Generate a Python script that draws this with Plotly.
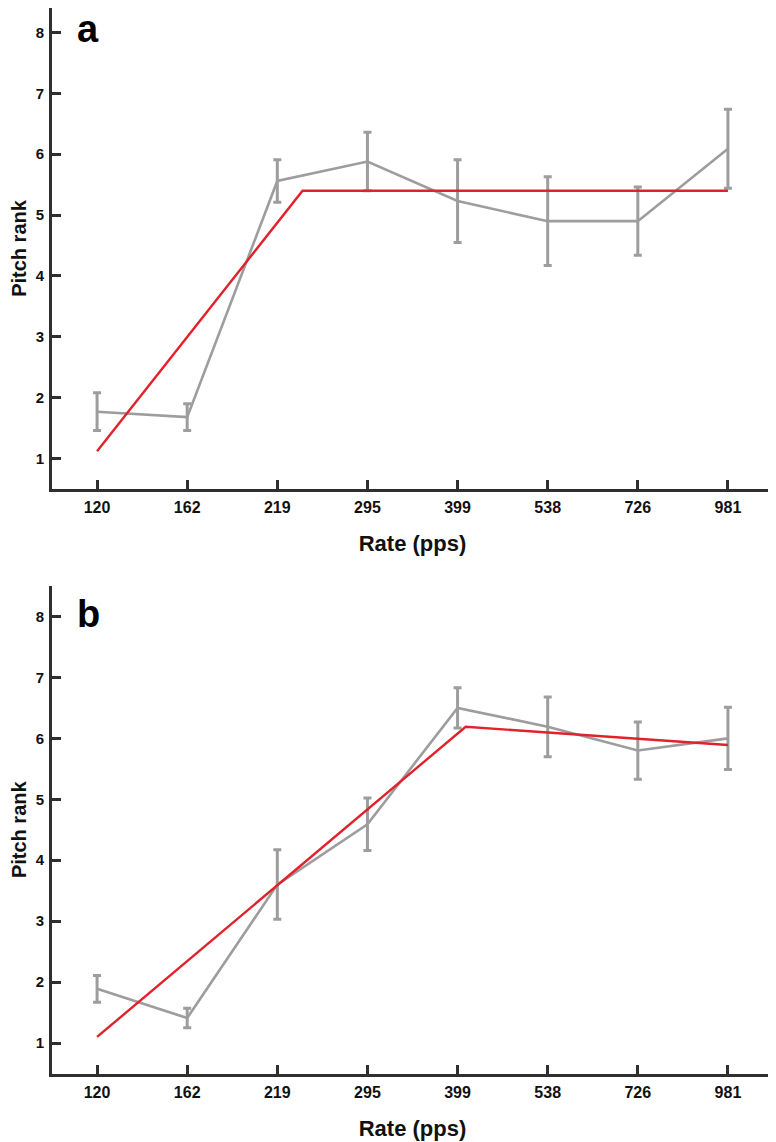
import plotly.graph_objects as go

# ---- data ----
rate_labels = ["120", "162", "219", "295", "399", "538", "726", "981"]
rate_pos = [0, 1, 2, 3, 4, 5, 6, 7]

mean_a = [1.77, 1.68, 5.56, 5.88, 5.23, 4.90, 4.90, 6.09]
err_a = [0.31, 0.22, 0.35, 0.48, 0.68, 0.73, 0.56, 0.65]
fit_x_a = [0, 2.28, 7]
fit_y_a = [1.12, 5.40, 5.40]

mean_b = [1.89, 1.41, 3.60, 4.59, 6.50, 6.19, 5.80, 6.00]
err_b = [0.22, 0.16, 0.57, 0.43, 0.33, 0.49, 0.47, 0.51]
fit_x_b = [0, 4.09, 7]
fit_y_b = [1.10, 6.19, 5.89]

y_ticks = [1, 2, 3, 4, 5, 6, 7, 8]

W, H = 776, 1142
OFF = 8  # page body margin offset
GRAY = "#9d9d9d"
RED = "#e2212b"
AX = "#2f2f2f"
FONT = "Liberation Sans, Arial, sans-serif"

fig = go.Figure()

panels = [
    ("x", "y", mean_a, err_a, fit_x_a, fit_y_a),
    ("x2", "y2", mean_b, err_b, fit_x_b, fit_y_b),
]
for xa, ya, m, e, fx, fy in panels:
    fig.add_trace(go.Scatter(
        x=rate_pos, y=m, mode="lines", xaxis=xa, yaxis=ya,
        line=dict(color=GRAY, width=2.6),
        error_y=dict(type="data", array=e, visible=True,
                     color=GRAY, thickness=3, width=4),
        showlegend=False, hoverinfo="skip"))
    fig.add_trace(go.Scatter(
        x=fx, y=fy, mode="lines", xaxis=xa, yaxis=ya,
        line=dict(color=RED, width=2.4),
        showlegend=False, hoverinfo="skip"))

def px_x(p):
    return (p - OFF) / W

def px_y(p):
    return min(1.0, 1 - (p - OFF) / H)

PXU = 60.8  # pixels per rank unit
xdom = [px_x(52), px_x(773)]
ydom_a = [px_y(489), px_y(OFF)]
ydom_b = [px_y(1073.5), px_y(586)]
ytop_a = 8.5 - (OFF - 2) / PXU

xaxis_common = dict(
    range=[-0.5, 7.5], tickmode="array", tickvals=rate_pos, ticktext=rate_labels,
    showline=True, linecolor=AX, linewidth=3, ticks="inside", ticklen=9,
    tickwidth=3, tickcolor=AX, showgrid=False, zeroline=False,
    tickfont=dict(family=FONT, size=16, color="#111", weight=700),
    title=dict(text="Rate (pps)", font=dict(family=FONT, size=22, color="#111", weight=700),
               standoff=21),
    domain=xdom, fixedrange=True, automargin=False, ticklabelstandoff=2,
)
yaxis_common = dict(
    tickmode="array", tickvals=y_ticks,
    showline=True, linecolor=AX, linewidth=3, ticks="inside", ticklen=9,
    tickwidth=3, tickcolor=AX, showgrid=False, zeroline=False,
    tickfont=dict(family=FONT, size=15, color="#111", weight=700),
    title=dict(text="Pitch rank", font=dict(family=FONT, size=20, color="#111", weight=700),
               standoff=23),
    fixedrange=True, automargin=False, ticklabelstandoff=2,
)

fig.update_layout(
    width=W, height=H,
    margin=dict(l=0, r=0, t=0, b=0),
    paper_bgcolor="white", plot_bgcolor="white",
    xaxis=dict(**xaxis_common, anchor="y"),
    yaxis=dict(**yaxis_common, range=[0.5, ytop_a], domain=ydom_a, anchor="x"),
    xaxis2=dict(**xaxis_common, anchor="y2"),
    yaxis2=dict(**yaxis_common, range=[0.5, 8.5], domain=ydom_b, anchor="x2"),
    annotations=[
        dict(text="a", xref="paper", yref="paper", x=px_x(75), y=px_y(29),
             xanchor="left", yanchor="middle", showarrow=False,
             font=dict(family=FONT, size=38, color="#000", weight=700)),
        dict(text="b", xref="paper", yref="paper", x=px_x(75), y=px_y(614),
             xanchor="left", yanchor="middle", showarrow=False,
             font=dict(family=FONT, size=38, color="#000", weight=700)),
    ],
)

fig.write_html("out.html")
